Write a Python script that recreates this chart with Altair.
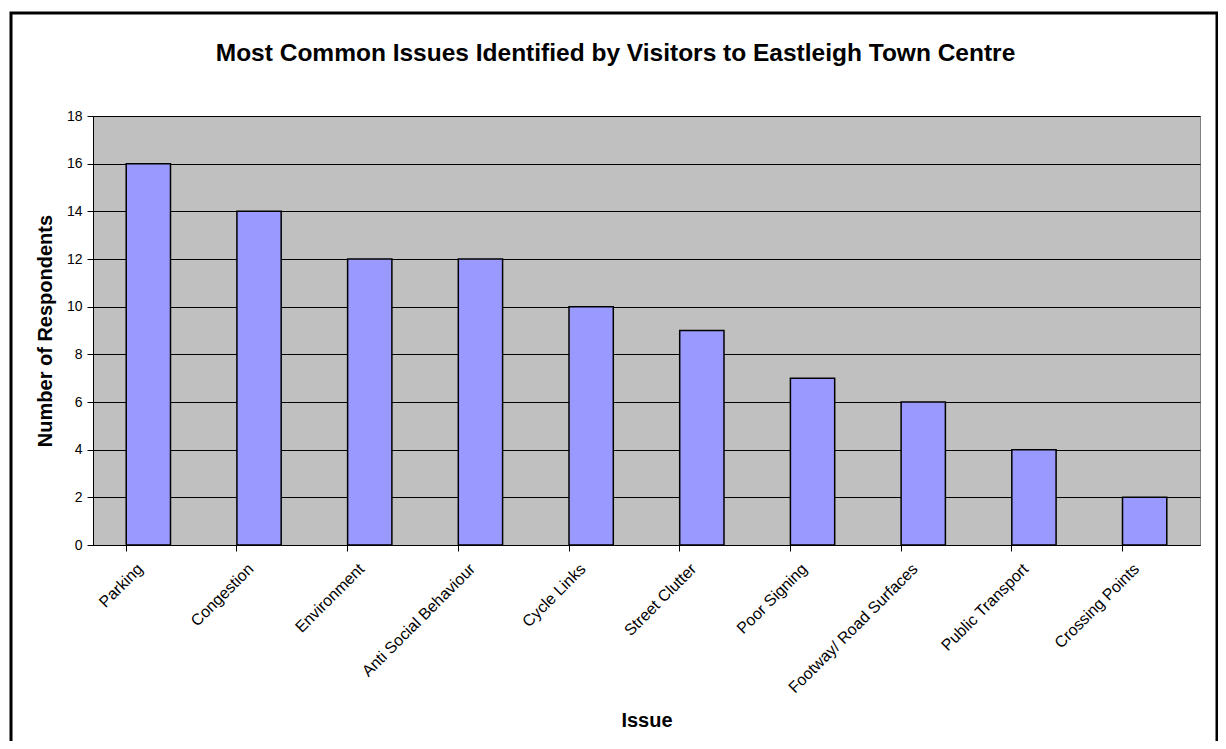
import altair as alt
import pandas as pd

categories = ["Parking", "Congestion", "Environment", "Anti Social Behaviour",
              "Cycle Links", "Street Clutter", "Poor Signing",
              "Footway/ Road Surfaces", "Public Transport", "Crossing Points"]
values = [16, 14, 12, 12, 10, 9, 7, 6, 4, 2]
y_ticks = [0, 2, 4, 6, 8, 10, 12, 14, 16, 18]

df = pd.DataFrame({"Issue": categories, "Count": values})

FONT = "Liberation Sans"

bars = alt.Chart(df).mark_bar(
    color="#9999FF", stroke="black", strokeWidth=1.5
).encode(
    x=alt.X("Issue:N", sort=categories,
            scale=alt.Scale(paddingInner=0.6, paddingOuter=0.3),
            axis=alt.Axis(title="Issue", labelAngle=-45, labelAlign="right",
                          labelBaseline="middle", labelPadding=15,
                          labelOffset=-8,
                          bandPosition=0, tickSize=6, tickColor="black",
                          domainColor="black", labelFontSize=16,
                          labelColor="black", titleFontSize=20,
                          titleFontWeight="bold", titleY=175,
                          titleBaseline="middle", grid=False)),
    y=alt.Y("Count:Q", scale=alt.Scale(domain=[0, 18], nice=False),
            axis=alt.Axis(title="Number of Respondents", values=y_ticks,
                          tickSize=6, tickColor="black", domainColor="black",
                          gridColor="black", gridWidth=1, grid=True,
                          labelFontSize=14, labelColor="black", labelPadding=5,
                          titleFontSize=20, titleFontWeight="bold",
                          titleX=-48, titleBaseline="middle")),
)

border = alt.Chart(alt.Data(values=[{}])).mark_rect(
    fillOpacity=0, stroke="black", strokeWidth=3
).encode(
    x=alt.value(-82), x2=alt.value(1124),
    y=alt.value(-103), y2=alt.value(634)
)

chart = alt.layer(border, bars).properties(
    width=1107, height=429,
    title=alt.Title("Most Common Issues Identified by Visitors to Eastleigh Town Centre",
                    fontSize=24.5, fontWeight="bold", font=FONT, color="black",
                    anchor="middle", dx=-31, offset=-55),
    autosize=alt.AutoSizeParams(type="none"),
    padding={"left": 85, "top": 108, "right": 18, "bottom": 196},
).configure(
    font=FONT, background="white"
).configure_view(
    fill="#C0C0C0", stroke="#808080", strokeWidth=1
).configure_axis(
    labelFont=FONT, titleFont=FONT, titleColor="black"
)

chart.save("out.html", embed_options={"renderer": "svg", "actions": False})
